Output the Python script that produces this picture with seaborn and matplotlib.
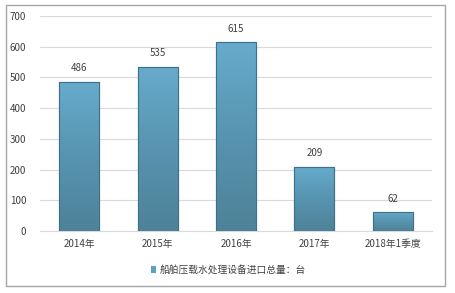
import matplotlib
matplotlib.use("Agg")
import matplotlib.pyplot as plt
import matplotlib.patches as mpatches
import numpy as np
import pandas as pd
import seaborn as sns
from matplotlib.colors import LinearSegmentedColormap

categories = ["2014年", "2015年", "2016年", "2017年", "2018年1季度"]
values = [486, 535, 615, 209, 62]
yticks = [0, 100, 200, 300, 400, 500, 600, 700]
series_name = "船舶压载水处理设备进口总量：台"

sns.set_theme(style="white")
plt.rcParams['font.family'] = ['Noto Sans CJK SC', 'DejaVu Sans']

df = pd.DataFrame({"cat": categories, "val": values})

fig = plt.figure(figsize=(4.55, 2.93), dpi=100)
ax = fig.add_axes([40/455, 1-231/293, 392/455, 215/293])

sns.barplot(data=df, x="cat", y="val", ax=ax, color="#5f9fbf", width=0.51,
            edgecolor="#3f7088", linewidth=0.8, saturation=1, zorder=3)

ax.set_xlim(-0.5, len(categories)-0.5)
ax.set_ylim(0, 700)
ax.set_yticks(yticks)
ax.yaxis.grid(True, color="#d9d9d9", linewidth=0.8, zorder=0)
ax.set_axisbelow(True)
for s in ["top", "right", "left"]:
    ax.spines[s].set_visible(False)
ax.spines["bottom"].set_color("#d9d9d9")
ax.spines["bottom"].set_linewidth(0.8)
ax.set_xlabel("")
ax.set_ylabel("")
ax.tick_params(axis="both", length=0, labelsize=7, colors="#404040", pad=6)
ax.tick_params(axis="y", pad=10)

# gradient fill on bars
cmap = LinearSegmentedColormap.from_list("g", ["#4e8298", "#5794b0", "#67abcc"])
grad = np.linspace(0, 1, 256).reshape(-1, 1)
for p in ax.patches:
    x0, y0 = p.get_x(), p.get_y()
    w, h = p.get_width(), p.get_height()
    im = ax.imshow(grad, extent=[x0, x0+w, y0, y0+h], origin="lower",
                   cmap=cmap, aspect="auto", zorder=3.5)
    im.set_clip_path(p)
    ax.add_patch(mpatches.Rectangle((x0, y0), w, h, fill=False,
                                    edgecolor="#3f7088", linewidth=0.8, zorder=4))
ax.set_xlim(-0.5, len(categories)-0.5)
ax.set_ylim(0, 700)

for i, v in enumerate(values):
    ax.annotate(str(v), (i, v), xytext=(0, 6), textcoords="offset points",
                ha="center", va="bottom", fontsize=7, color="#404040")

handle = mpatches.Patch(facecolor="#5f9fbf", edgecolor="none")
fig.legend([handle], [series_name], loc="center", bbox_to_anchor=(228/455, 1-270/293),
           frameon=False, fontsize=7, handlelength=0.6, handleheight=0.6,
           handletextpad=0.3, labelcolor="#404040")

fig.add_artist(mpatches.Rectangle((6/455, 1-286/293), 439/455, 281/293,
                                  transform=fig.transFigure, fill=False,
                                  edgecolor="#a6a6a6", linewidth=1))

fig.savefig("out.png", dpi=100)
